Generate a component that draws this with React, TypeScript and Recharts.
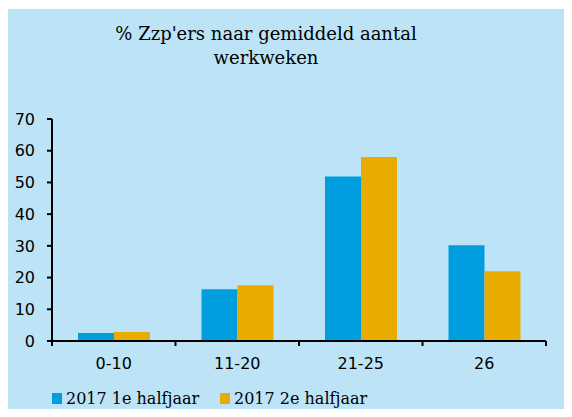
import { BarChart, Bar, XAxis, YAxis } from "recharts"

const categories = ["0-10", "11-20", "21-25", "26"]
const firstHalf = [2.5, 16.3, 51.9, 30.2]
const secondHalf = [2.8, 17.6, 58.0, 22.0]
const seriesNames = ["2017 1e halfjaar", "2017 2e halfjaar"]
const yTicks = [0, 10, 20, 30, 40, 50, 60, 70]

const COLORS = ["#009EDF", "#E8AC00"]
const BG = "#BDE4F6"
const FONT = "'DejaVu Sans', sans-serif"

const data = categories.map((c, i) => ({ cat: c, h1: firstHalf[i], h2: secondHalf[i] }))

// category label plus tick marks on the band edges (Excel style)
function CatTick(props: any) {
  const { x, y, payload, index } = props
  const half = payload && payload.offset ? payload.offset : 494 / categories.length / 2
  const last = index === categories.length - 1
  return (
    <g>
      <line x1={x - half} x2={x - half} y1={y} y2={y + 5} stroke="#000" strokeWidth={2} />
      {last && <line x1={x + half} x2={x + half} y1={y} y2={y + 5} stroke="#000" strokeWidth={2} />}
      <text x={x} y={y + 28} textAnchor="middle" fill="#000" fontSize={16} fontFamily={FONT}>
        {payload.value}
      </text>
    </g>
  )
}

export default function App() {
  return (
    <div style={{ position: "relative", width: 572, height: 417, margin: -8, background: "#fff" }}>
      <div style={{ position: "absolute", left: 6, top: 9, width: 566, height: 408, background: BG }}>
        <div
          style={{
            position: "absolute",
            left: 60,
            top: 13,
            width: 400,
            textAlign: "center",
            fontFamily: "'DejaVu Serif', serif",
            fontSize: 18,
            lineHeight: "24px",
            color: "#000",
          }}
        >
          % Zzp'ers naar gemiddeld aantal
          <br />
          werkweken
        </div>
        <BarChart
          width={566}
          height={408}
          data={data}
          margin={{ top: 110, right: 26, left: 0, bottom: 46 }}
          barGap={0}
          style={{ position: "absolute", left: 0, top: 0 }}
        >
          <XAxis
            dataKey="cat"
            height={30}
            interval={0}
            axisLine={{ stroke: "#000", strokeWidth: 2 }}
            tickLine={false}
            tickSize={0}
            tickMargin={0}
            tick={<CatTick />}
          />
          <YAxis
            width={46}
            domain={[0, 70]}
            ticks={yTicks}
            interval={0}
            tickSize={5}
            tickMargin={12}
            axisLine={{ stroke: "#000", strokeWidth: 2 }}
            tickLine={{ stroke: "#000", strokeWidth: 2 }}
            tick={{ fill: "#000", fontSize: 16, fontFamily: FONT }}
          />
          <Bar dataKey="h1" name={seriesNames[0]} fill={COLORS[0]} barSize={36} isAnimationActive={false} />
          <Bar dataKey="h2" name={seriesNames[1]} fill={COLORS[1]} barSize={36} isAnimationActive={false} />
        </BarChart>
        <div
          style={{
            position: "absolute",
            left: 46,
            top: 380,
            display: "flex",
            fontFamily: "'DejaVu Serif', serif",
            fontSize: 16,
            color: "#000",
          }}
        >
          {seriesNames.map((n, i) => (
            <div key={n} style={{ display: "flex", alignItems: "center", width: 168 }}>
              <span style={{ display: "inline-block", width: 10, height: 11, background: COLORS[i], marginRight: 4 }} />
              {n}
            </div>
          ))}
        </div>
      </div>
    </div>
  )
}
